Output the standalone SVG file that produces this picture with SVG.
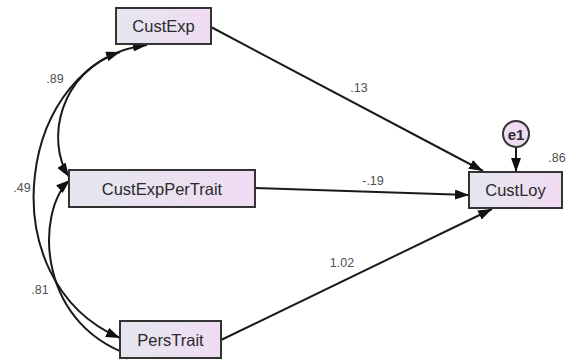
<svg xmlns="http://www.w3.org/2000/svg" width="566" height="363" viewBox="0 0 566 363">
  <defs>
    <linearGradient id="boxFill" x1="0" y1="0" x2="1" y2="0">
      <stop offset="0" stop-color="#e4e7ef"/>
      <stop offset="1" stop-color="#f1dbf3"/>
    </linearGradient>
    <marker id="arrow" viewBox="0 0 14 10" refX="14" refY="5" markerWidth="14" markerHeight="10" markerUnits="userSpaceOnUse" orient="auto-start-reverse">
      <path d="M0,0 L14,5 L0,10 Z" fill="#111"/>
    </marker>
    <style>
      .box { fill: url(#boxFill); stroke: #333; stroke-width: 2; }
      .name { font-family: "Liberation Sans", Arial, sans-serif; font-size: 16.5px; fill: #2a2a2a; text-anchor: middle; dominant-baseline: central; }
      .coef { font-family: "Liberation Sans", Arial, sans-serif; font-size: 12.5px; fill: #505050; text-anchor: middle; }
      .path { fill: none; stroke: #1a1a1a; stroke-width: 2; marker-end: url(#arrow); }
      .cov { marker-start: url(#arrow); }
    </style>
  </defs>

  <g id="connectors">
    <path class="path" d="M211,27 L483,171"/>
    <path class="path" d="M255,188 L469,195"/>
    <path class="path" d="M221,340 L492,209"/>
    <path class="path" d="M516,147 L516,172"/>
    <!-- covariances -->
    <path class="path cov" d="M120,52 C60,72 45,140 69,177"/>
    <path class="path cov" d="M147,45 C18,60 -14,280 120,338"/>
    <path class="path cov" d="M70,180 C35,210 35,330 140,358"/>
  </g>

  <g id="labels">
    <text class="coef" x="359" y="92">.13</text>
    <text class="coef" x="373" y="185">-.19</text>
    <text class="coef" x="342" y="267">1.02</text>
    <text class="coef" x="557" y="162">.86</text>
    <text class="coef" x="55" y="83">.89</text>
    <text class="coef" x="22" y="192">.49</text>
    <text class="coef" x="40" y="294">.81</text>
  </g>

  <g id="CustExp">
    <rect class="box" x="116" y="8" width="95" height="36"/>
    <text class="name" x="163.5" y="26">CustExp</text>
  </g>
  <g id="CustExpPerTrait">
    <rect class="box" x="69" y="170" width="186" height="37"/>
    <text class="name" x="162" y="188.5">CustExpPerTrait</text>
  </g>
  <g id="PersTrait">
    <rect class="box" x="120" y="321" width="101" height="37"/>
    <text class="name" x="170.5" y="339.5">PersTrait</text>
  </g>
  <g id="CustLoy">
    <rect class="box" x="469" y="172" width="93" height="36"/>
    <text class="name" x="515.5" y="190">CustLoy</text>
  </g>
  <g id="e1">
    <circle cx="516" cy="134" r="13" fill="#efdcf2" stroke="#333" stroke-width="2"/>
    <text class="name" x="516" y="134" style="font-size:15px;font-weight:bold">e1</text>
  </g>
</svg>
